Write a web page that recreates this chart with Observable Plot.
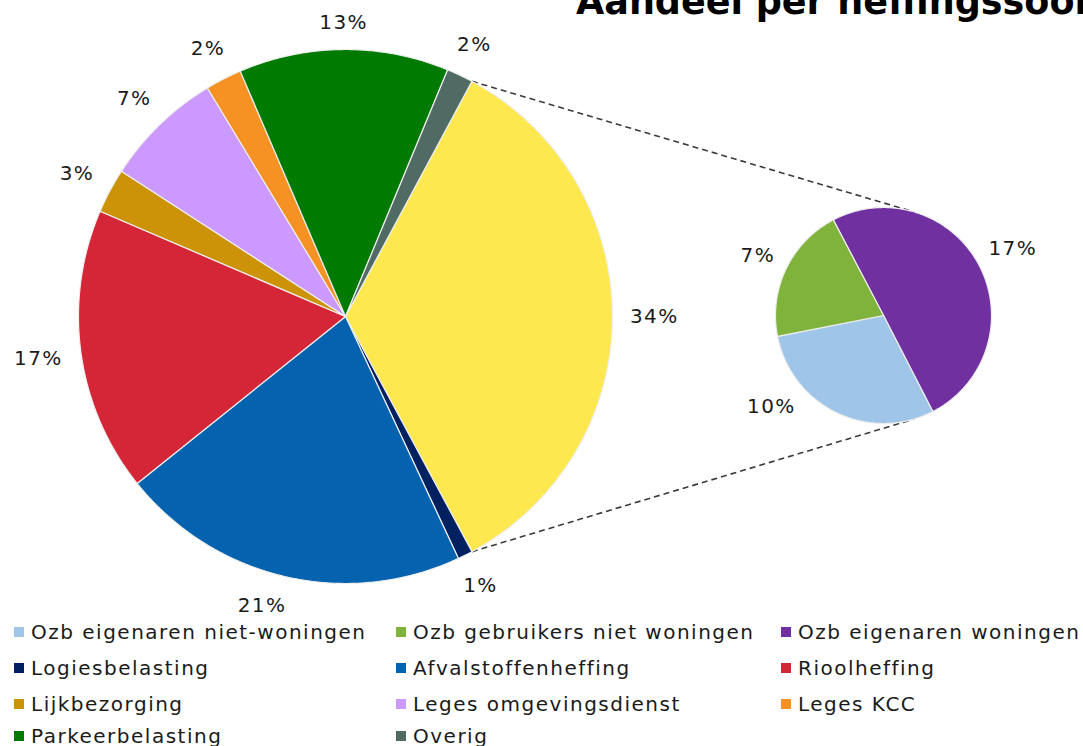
<!DOCTYPE html>
<html>
<head>
<meta charset="utf-8">
<script src="https://cdn.jsdelivr.net/npm/d3@7"></script>
<script src="https://cdn.jsdelivr.net/npm/@observablehq/plot@0.6"></script>
<style>
  html, body { margin: 0; padding: 0; background: #fff; }
  #page { position: relative; width: 1083px; height: 746px; overflow: hidden; background: #fff; font-family: "DejaVu Sans", Verdana, sans-serif; }
  #title { position: absolute; left: 576px; top: -16px; font: bold 36.5px/1 "DejaVu Sans", sans-serif; color: #000; white-space: nowrap; }
  #chart { position: absolute; left: 0; top: 0; }
  #chart svg text { letter-spacing: 1.4px; }
  .lg { position: absolute; font-size: 20px; line-height: 20px; letter-spacing: 1.5px; color: #1a1a1a; white-space: nowrap; }
  .sw { position: absolute; width: 10px; height: 10px; }
</style>
</head>
<body>
<div id="page">
  <div id="chart"></div>
  <div id="title">Aandeel per heffingssoort</div>
  <div id="legend"></div>
</div>
<script>
// ---------- data ----------
// second pie (the break-out of the yellow slice), clockwise order
const subNames  = ["Ozb eigenaren woningen", "Ozb eigenaren niet-woningen", "Ozb gebruikers niet woningen"];
const subValues = [17.2, 10.1, 7.0];
const subColors = ["#7030a0", "#9fc5e8", "#7fb33c"];

// main pie slices after the aggregated (yellow) slice, clockwise order
const mainNames  = ["Logiesbelasting", "Afvalstoffenheffing", "Rioolheffing", "Lijkbezorging",
                    "Leges omgevingsdienst", "Leges KCC", "Parkeerbelasting", "Overig"];
const mainValues = [0.9, 21.2, 17.2, 2.7, 7.2, 2.2, 12.7, 1.6];
const mainColors = ["#002060", "#0462ae", "#d42637", "#cc9208", "#cc99ff", "#f59223", "#007a00", "#4f6b63"];
const otherName  = "Ozb (totaal)";
const otherColor = "#fde94f";

// legend order
const legendNames = ["Ozb eigenaren niet-woningen", "Ozb gebruikers niet woningen", "Ozb eigenaren woningen",
                     "Logiesbelasting", "Afvalstoffenheffing", "Rioolheffing",
                     "Lijkbezorging", "Leges omgevingsdienst", "Leges KCC",
                     "Parkeerbelasting", "Overig"];

// ---------- layout ----------
const W = 1083, H = 622;
const main = {cx: 345, cy: 316, r: 267, pad: 17};
const small = {cx: 883, cy: 315, r: 108, pad: 11, start: -27.7 * Math.PI / 180};
const labelNudge = {"Ozb eigenaren niet-woningen": 25 * Math.PI / 180, "Afvalstoffenheffing": 3 * Math.PI / 180};
const fontPx = 20;

const colorOf = {};
subNames.forEach((n, i) => colorOf[n] = subColors[i]);
mainNames.forEach((n, i) => colorOf[n] = mainColors[i]);
colorOf[otherName] = otherColor;

const subTotal = d3.sum(subValues);
const grandTotal = subTotal + d3.sum(mainValues);

const mainData = [{name: otherName, v: subTotal}].concat(mainNames.map((n, i) => ({name: n, v: mainValues[i]})));
const subData = subNames.map((n, i) => ({name: n, v: subValues[i]}));

const otherAngle = 2 * Math.PI * subTotal / grandTotal;
const mainStart = Math.PI / 2 - otherAngle / 2;
const mainArcs = d3.pie().sort(null).value(d => d.v).startAngle(mainStart).endAngle(mainStart + 2 * Math.PI)(mainData);
const subArcs = d3.pie().sort(null).value(d => d.v).startAngle(small.start).endAngle(small.start + 2 * Math.PI)(subData);

const pt = (c, r, a) => [c.cx + r * Math.sin(a), c.cy - r * Math.cos(a)];

function wedgePoints(arcs, c, tag) {
  const pts = [];
  for (const a of arcs) {
    const key = tag + a.data.name;
    const n = Math.max(2, Math.ceil((a.endAngle - a.startAngle) / (Math.PI / 360)));
    pts.push({key, name: a.data.name, x: c.cx, y: c.cy});
    for (let i = 0; i <= n; i++) {
      const ang = a.startAngle + (a.endAngle - a.startAngle) * i / n;
      const [x, y] = pt(c, c.r, ang);
      pts.push({key, name: a.data.name, x, y});
    }
    pts.push({key, name: a.data.name, x: c.cx, y: c.cy});
  }
  return pts;
}

function labels(arcs, c) {
  return arcs.map(a => {
    const pct = Math.round(a.data.v / grandTotal * 100) + "%";
    const ang = (a.startAngle + a.endAngle) / 2 + (labelNudge[a.data.name] || 0);
    const hw = ((pct.length - 1) * 0.636 * fontPx + fontPx + pct.length * 1.4) / 2;
    const hh = fontPx / 2;
    const dist = c.r + c.pad + Math.abs(Math.sin(ang)) * hw + Math.abs(Math.cos(ang)) * hh;
    const [x, y] = pt(c, dist, ang);
    return {x, y, text: pct};
  });
}

// connector lines: from the aggregated slice's outer corners, tangent to the second pie
const oa = mainArcs[0];
function tangent(P, sign) {
  const dx = small.cx - P[0], dy = small.cy - P[1];
  const d = Math.hypot(dx, dy);
  const th = Math.atan2(dy, dx);
  const al = Math.asin(small.r / d);
  const dir = th + sign * al;
  const L = Math.sqrt(d * d - small.r * small.r);
  return [P[0] + L * Math.cos(dir), P[1] + L * Math.sin(dir)];
}
const Ptop = pt(main, main.r, oa.startAngle);
const Pbot = pt(main, main.r, oa.endAngle);
const Ttop = tangent(Ptop, -1);
const Tbot = tangent(Pbot, +1);
const connectors = [
  {x1: Ptop[0], y1: Ptop[1], x2: Ttop[0], y2: Ttop[1]},
  {x1: Pbot[0], y1: Pbot[1], x2: Tbot[0], y2: Tbot[1]}
];

const wedges = wedgePoints(mainArcs, main, "m:").concat(wedgePoints(subArcs, small, "s:"));
const lab = labels(mainArcs, main).concat(labels(subArcs, small));

const chart = Plot.plot({
  width: W,
  height: H,
  margin: 0,
  x: {domain: [0, W], range: [0, W], axis: null},
  y: {domain: [0, H], range: [0, H], axis: null},
  color: {type: "identity"},
  style: {background: "transparent", fontFamily: "DejaVu Sans, Verdana, sans-serif"},
  marks: [
    Plot.link(connectors, {x1: "x1", y1: "y1", x2: "x2", y2: "y2", stroke: "#3a3a3a", strokeWidth: 1.6, strokeDasharray: "6,4"}),
    Plot.line(wedges, {x: "x", y: "y", z: "key", fill: d => colorOf[d.name], stroke: "#eeeeee", strokeWidth: 1.2, strokeLinejoin: "round", curve: "linear"}),
    Plot.text(lab, {x: "x", y: "y", text: "text", fontSize: fontPx, fill: "#1a1a1a"})
  ]
});
document.getElementById("chart").appendChild(chart);

// ---------- legend ----------
const colX = [14, 396, 781];
const rowY = [631.5, 667.5, 703.5, 736];
const leg = document.getElementById("legend");
legendNames.forEach((n, i) => {
  const cx = colX[i % 3], cy = rowY[Math.floor(i / 3)];
  const sw = document.createElement("div");
  sw.className = "sw";
  sw.style.left = cx + "px";
  sw.style.top = (cy - 5) + "px";
  sw.style.background = colorOf[n];
  leg.appendChild(sw);
  const t = document.createElement("div");
  t.className = "lg";
  t.style.left = (cx + 17) + "px";
  t.style.top = (cy - 9.6) + "px";
  t.textContent = n;
  leg.appendChild(t);
});
</script>
</body>
</html>
